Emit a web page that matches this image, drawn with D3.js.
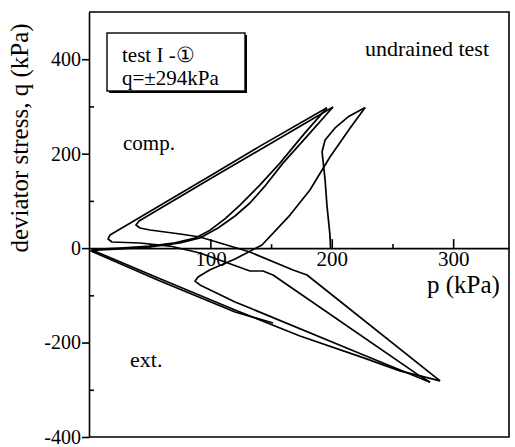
<!DOCTYPE html>
<html>
<head>
<meta charset="utf-8">
<script src="https://cdn.jsdelivr.net/npm/d3@7"></script>
<style>
    body { margin: 0; background: #fff; }
    svg text { font-family: "Liberation Serif", "Times New Roman", serif; fill: #000; }
</style>
</head>
<body>
<svg id="chart" width="515" height="447"></svg>
<script>
// Stress path legs, [p (kPa), q (kPa)]
const firstLoading = [[199, 0], [198.5, 28], [196, 91], [194.5, 144], [192, 204], [194.5, 229], [202.5, 254], [213.5, 278], [227.5, 298]];
const firstUnloading = [[227.5, 298], [215, 254], [198.5, 193], [182, 123], [165.6, 70], [142.5, 6.6], [120.3, -23], [99.7, -46], [89.8, -61], [87.3, -70], [91.4, -78], [108, -99], [120.3, -114], [132.6, -127], [225.7, -226], [281, -284]];
const secondLoading = [[281, -284], [272.7, -271], [151.6, -57], [143.3, -48.5], [132.6, -48.5], [112, -29.4], [91.4, -10.4], [66.7, 4.4], [42, 10.8], [18.9, 12.9], [15.7, 19.3], [17.3, 27.7], [103.8, 159], [140.9, 216], [196, 297]];
const secondUnloading = [[196, 297], [177.9, 244], [157.3, 180], [140.9, 134], [124.4, 91], [112, 62], [99.7, 38], [87.3, 21], [70.8, 11], [50.3, 4.4], [25.5, 0.2], [9.1, -2], [2.5, -4], [58.5, -65], [120.3, -131], [173.8, -186], [225.7, -232], [256.2, -260], [289.2, -281]];
const thirdLoading = [[289.2, -281], [179.6, -57], [168.1, -46.4], [132.6, -8.3], [107.9, 10.8], [91.4, 23.5], [75, 29.9], [50.3, 38.3], [42, 42.6], [38.7, 48.9], [41.2, 57.4], [103.8, 152.7], [201, 298.8]];
const thirdUnloading = [[201, 298.8], [182.1, 244], [159.8, 180], [145.8, 134], [132.6, 95.5], [120.3, 68], [106.3, 42.6], [91.4, 21.4], [75, 10.8], [50.3, 2.3], [25.5, -1.9], [9.1, -4], [1.6, -6.1], [58.5, -69.7], [120.3, -135.3], [151.6, -158.6]];

// Axis ticks
const xMajorTicks = [100, 200, 300];
const xMinorTicks = [50, 150, 250];
const xTickLabels = ["100", "200", "300"];
const yMajorTicks = [400, 200, 0, -200, -400];
const yMinorTicks = [300, 100, -100, -300];
const yTickLabels = ["400", "200", "0", "-200", "-400"];

const svg = d3.select("#chart");

// Scales
const x = d3.scaleLinear().domain([0, 346]).range([89, 509]);
const y = d3.scaleLinear().domain([-400, 500]).range([437, 12]);

// Frame (top, right, bottom)
svg.append("path")
    .attr("d", "M" + x(0) + "," + y(500) + "H" + x(346) + "V" + y(-400) + "H" + x(0))
    .attr("fill", "none")
    .attr("stroke", "#000")
    .attr("stroke-width", 1.6);

// Axis styling helper
function styleAxis(g, size) {
    g.attr("font-family", null).attr("font-size", size);
    g.selectAll("path, line").attr("stroke", "#000").attr("stroke-width", 1.6);
    g.selectAll("text").attr("fill", "#000");
}

// Left axis, major ticks outward with labels
svg.append("g")
    .attr("transform", "translate(" + x(0) + ",0)")
    .call(d3.axisLeft(y).tickValues(yMajorTicks)
        .tickFormat((d, i) => yTickLabels[i])
        .tickSize(7).tickSizeOuter(0).tickPadding(1))
    .call(g => styleAxis(g, 20));

// Left axis, minor ticks inward
svg.append("g")
    .attr("transform", "translate(" + x(0) + ",0)")
    .call(d3.axisRight(y).tickValues(yMinorTicks).tickFormat("").tickSize(5))
    .call(g => g.select(".domain").remove())
    .call(g => styleAxis(g, 20));

// Horizontal axis at q = 0, ticks pointing up
svg.append("g")
    .attr("transform", "translate(0," + y(0) + ")")
    .call(d3.axisTop(x).tickValues(xMajorTicks).tickFormat("").tickSize(9).tickSizeOuter(0))
    .call(g => styleAxis(g, 21));

svg.append("g")
    .attr("transform", "translate(0," + y(0) + ")")
    .call(d3.axisTop(x).tickValues(xMinorTicks).tickFormat("").tickSize(4))
    .call(g => g.select(".domain").remove())
    .call(g => styleAxis(g, 21));

// Tick labels below the axis
svg.append("g")
    .attr("transform", "translate(0," + y(0) + ")")
    .call(d3.axisBottom(x).tickValues(xMajorTicks)
        .tickFormat((d, i) => xTickLabels[i]).tickSize(0).tickPadding(3))
    .call(g => g.select(".domain").remove())
    .call(g => styleAxis(g, 21));

// Stress path
const line = d3.line()
    .x(d => x(d[0]))
    .y(d => y(d[1]));

const legs = [firstLoading, firstUnloading, secondLoading, secondUnloading, thirdLoading, thirdUnloading];

svg.append("g")
    .selectAll("path")
    .data(legs)
    .join("path")
    .attr("d", line)
    .attr("fill", "none")
    .attr("stroke", "#000")
    .attr("stroke-width", 1.7)
    .attr("stroke-linejoin", "round");

// Axis titles
svg.append("text")
    .attr("transform", "translate(28,138) rotate(-90)")
    .attr("text-anchor", "middle")
    .attr("font-size", 25)
    .text("deviator stress, q (kPa)");

svg.append("text")
    .attr("x", 427)
    .attr("y", 293)
    .attr("font-size", 25)
    .text("p (kPa)");

// Annotations
svg.append("text")
    .attr("x", 365)
    .attr("y", 56)
    .attr("font-size", 22)
    .text("undrained test");

svg.append("text")
    .attr("x", 123)
    .attr("y", 150)
    .attr("font-size", 21)
    .text("comp.");

svg.append("text")
    .attr("x", 130)
    .attr("y", 367)
    .attr("font-size", 22)
    .text("ext.");

// Legend box with shadow
const box = svg.append("g");
box.append("rect")
    .attr("x", 109).attr("y", 35)
    .attr("width", 138).attr("height", 58)
    .attr("fill", "#000");
box.append("rect")
    .attr("x", 107).attr("y", 33)
    .attr("width", 138).attr("height", 58)
    .attr("fill", "#fff")
    .attr("stroke", "#000")
    .attr("stroke-width", 1.4);
box.append("text")
    .attr("x", 122).attr("y", 62)
    .attr("font-size", 21)
    .text("test I -\u2460");
box.append("text")
    .attr("x", 122).attr("y", 85)
    .attr("font-size", 21)
    .text("q=\u00b1294kPa");
</script>
</body>
</html>
